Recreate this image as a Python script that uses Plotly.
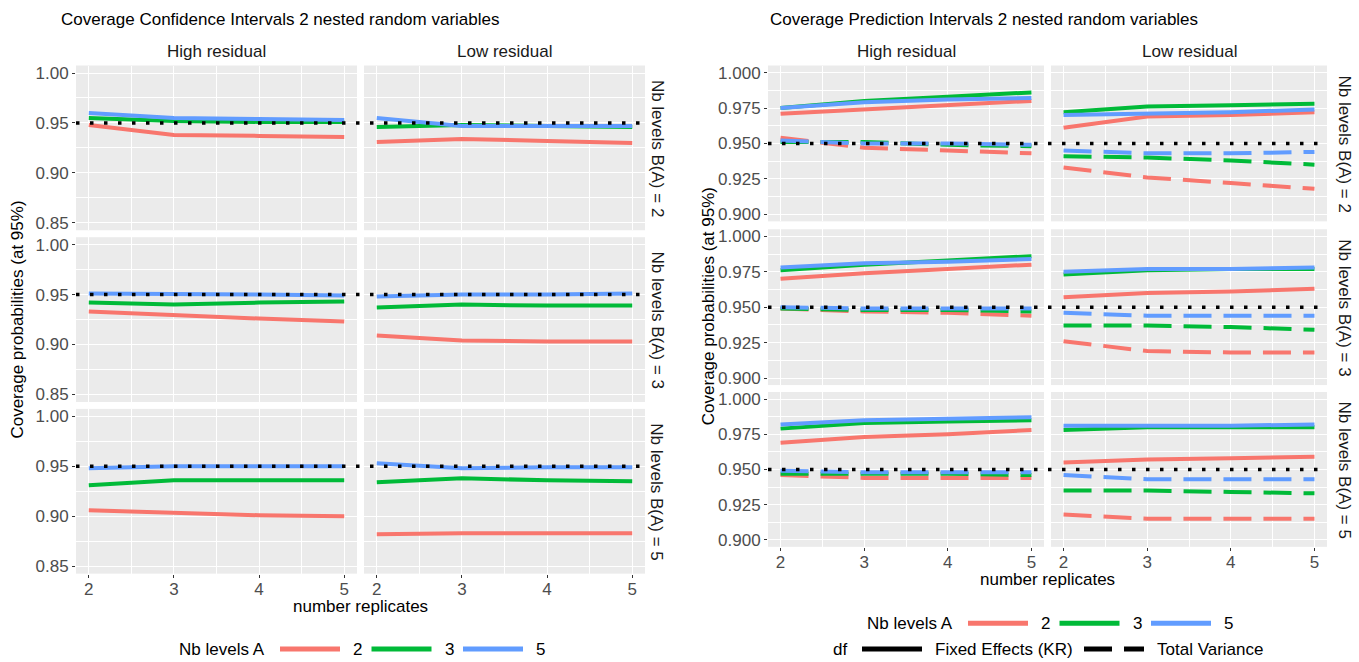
import plotly.graph_objects as go

W, H = 1359, 662

replicates = [2, 3, 4, 5]
levels_a = ["2", "3", "5"]
levels_b = [2, 3, 5]
residual_labels = ["High residual", "Low residual"]
df_labels = ["Fixed Effects (KR)", "Total Variance"]
colors_a = ["#F8766D", "#00BA38", "#619CFF"]
target_level = 0.95

# Coverage of confidence intervals: one list per Nb levels A (2, 3, 5)
ci_high_b2 = [[0.948, 0.938, 0.937, 0.936], [0.955, 0.952, 0.951, 0.951], [0.960, 0.955, 0.954, 0.953]]
ci_low_b2 = [[0.931, 0.934, 0.932, 0.930], [0.946, 0.948, 0.947, 0.946], [0.955, 0.947, 0.947, 0.947]]
ci_high_b3 = [[0.933, 0.930, 0.926, 0.923], [0.942, 0.940, 0.942, 0.943], [0.951, 0.951, 0.950, 0.949]]
ci_low_b3 = [[0.909, 0.904, 0.903, 0.903], [0.937, 0.940, 0.939, 0.939], [0.948, 0.950, 0.950, 0.951]]
ci_high_b5 = [[0.906, 0.903, 0.901, 0.900], [0.931, 0.936, 0.936, 0.936], [0.948, 0.950, 0.950, 0.950]]
ci_low_b5 = [[0.882, 0.883, 0.883, 0.883], [0.934, 0.938, 0.936, 0.935], [0.953, 0.948, 0.949, 0.949]]

# Coverage of prediction intervals, Fixed Effects (KR) df
pi_kr_high_b2 = [[0.971, 0.974, 0.977, 0.980], [0.975, 0.980, 0.983, 0.986], [0.975, 0.979, 0.981, 0.982]]
pi_kr_low_b2 = [[0.961, 0.969, 0.970, 0.972], [0.972, 0.976, 0.977, 0.978], [0.970, 0.971, 0.972, 0.974]]
pi_kr_high_b3 = [[0.970, 0.974, 0.977, 0.980], [0.976, 0.980, 0.983, 0.986], [0.978, 0.981, 0.982, 0.984]]
pi_kr_low_b3 = [[0.957, 0.960, 0.961, 0.963], [0.973, 0.976, 0.977, 0.977], [0.975, 0.977, 0.977, 0.978]]
pi_kr_high_b5 = [[0.969, 0.973, 0.975, 0.978], [0.979, 0.983, 0.984, 0.985], [0.982, 0.985, 0.986, 0.987]]
pi_kr_low_b5 = [[0.955, 0.957, 0.958, 0.959], [0.978, 0.980, 0.980, 0.980], [0.981, 0.981, 0.981, 0.982]]

# Coverage of prediction intervals, Total Variance df
pi_tv_high_b2 = [[0.954, 0.947, 0.945, 0.943], [0.951, 0.951, 0.949, 0.948], [0.952, 0.950, 0.950, 0.949]]
pi_tv_low_b2 = [[0.933, 0.926, 0.922, 0.918], [0.941, 0.940, 0.938, 0.935], [0.945, 0.943, 0.943, 0.944]]
pi_tv_high_b3 = [[0.949, 0.947, 0.946, 0.944], [0.949, 0.948, 0.948, 0.947], [0.950, 0.949, 0.949, 0.949]]
pi_tv_low_b3 = [[0.926, 0.919, 0.918, 0.918], [0.937, 0.937, 0.936, 0.934], [0.946, 0.944, 0.944, 0.944]]
pi_tv_high_b5 = [[0.946, 0.944, 0.944, 0.944], [0.947, 0.947, 0.947, 0.946], [0.949, 0.948, 0.948, 0.948]]
pi_tv_low_b5 = [[0.918, 0.915, 0.915, 0.915], [0.935, 0.935, 0.934, 0.933], [0.946, 0.943, 0.943, 0.943]]

ci_grid = [[ci_high_b2, ci_low_b2], [ci_high_b3, ci_low_b3], [ci_high_b5, ci_low_b5]]
pi_grid = [
    [[pi_kr_high_b2, pi_tv_high_b2], [pi_kr_low_b2, pi_tv_low_b2]],
    [[pi_kr_high_b3, pi_tv_high_b3], [pi_kr_low_b3, pi_tv_low_b3]],
    [[pi_kr_high_b5, pi_tv_high_b5], [pi_kr_low_b5, pi_tv_low_b5]],
]

FONT = "Liberation Sans, Arial, Helvetica, sans-serif"
FS = 17
PANEL_BG = "#EBEBEB"
TICK_COL = "#4D4D4D"
STRIP_COL = "#1A1A1A"
LINE_W = 4
DF_DASH = ["solid", "28px,12px"]
TARGET_DASH = "3.5px,10.5px"

# panel placement in pixels: (left, right) per column, (top, bottom) per row
ci_cols = [(76, 357), (364, 645)]
ci_rows = [(64, 230), (237, 403), (410, 576)]
pi_cols = [(768, 1044), (1051, 1327)]
pi_rows = [(64, 221), (229, 386), (393, 549)]


def fx(p):
    return p / W


def fy(p):
    return 1 - p / H


fig = go.Figure()
layout = dict(
    width=W, height=H, margin=dict(l=0, r=0, t=0, b=0),
    paper_bgcolor="white", plot_bgcolor=PANEL_BG,
    font=dict(family=FONT, size=FS, color="black"),
    showlegend=False,
)
shapes = []
annotations = []
axis_n = [0]


def add_axes(cx, ry, yrange, yticks, ymajor_fmt, yminor, bottom, left):
    axis_n[0] += 1
    n = axis_n[0]
    s = "" if n == 1 else str(n)
    layout["xaxis" + s] = dict(
        domain=[fx(cx[0]), fx(cx[1])], anchor="y" + s, range=[1.85, 5.15],
        tickvals=replicates, showgrid=True, gridcolor="white", gridwidth=1.2,
        minor=dict(tickvals=[2.5, 3.5, 4.5], showgrid=True, gridcolor="white", gridwidth=0.6, ticks=""),
        zeroline=False, showline=False, showticklabels=bottom,
        ticks="outside" if bottom else "", ticklen=3, tickwidth=1.1, tickcolor="#333333",
        ticklabelstandoff=-3,
        tickfont=dict(size=FS, color=TICK_COL), fixedrange=True,
    )
    layout["yaxis" + s] = dict(
        domain=[fy(ry[1]), fy(ry[0])], anchor="x" + s, range=yrange,
        tickvals=yticks, tickformat=ymajor_fmt, showgrid=True, gridcolor="white", gridwidth=1.2,
        minor=dict(tickvals=yminor, showgrid=True, gridcolor="white", gridwidth=0.6, ticks=""),
        zeroline=False, showline=False, showticklabels=left,
        ticks="outside" if left else "", ticklen=3, tickwidth=1.1, tickcolor="#333333",
        tickfont=dict(size=FS, color=TICK_COL), fixedrange=True,
    )
    return "x" + s, "y" + s


def facet_labels(cols, rows, strip_x):
    for j, lab in enumerate(residual_labels):
        annotations.append(dict(
            text=lab, x=fx((cols[j][0] + cols[j][1]) / 2), y=fy(50), xref="paper", yref="paper",
            showarrow=False, xanchor="center", yanchor="middle",
            font=dict(size=FS, color=STRIP_COL)))
    for i, b in enumerate(levels_b):
        annotations.append(dict(
            text=f"Nb levels B(A) = {b}", x=fx(strip_x), y=fy((rows[i][0] + rows[i][1]) / 2),
            xref="paper", yref="paper", showarrow=False, textangle=90,
            xanchor="center", yanchor="middle", font=dict(size=FS, color=STRIP_COL)))


def target_line(cols, yref):
    shapes.append(dict(
        type="line", xref="paper", yref=yref, x0=fx(cols[0][0]), x1=fx(cols[1][1]),
        y0=target_level, y1=target_level, layer="above",
        line=dict(color="black", width=3.5, dash=TARGET_DASH)))


# ---- Confidence intervals chart ----
ci_minor = [0.875, 0.925, 0.975]
for i in range(3):
    for j in range(2):
        xa, ya = add_axes(ci_cols[j], ci_rows[i], [0.8425, 1.0075], [0.85, 0.90, 0.95, 1.00], ".2f",
                          ci_minor, bottom=(i == 2), left=(j == 0))
        for k, series in enumerate(ci_grid[i][j]):
            fig.add_trace(go.Scatter(
                x=replicates, y=series, mode="lines", xaxis=xa, yaxis=ya, hoverinfo="skip",
                line=dict(color=colors_a[k], width=LINE_W)))
        if j == 0:
            target_line(ci_cols, ya)

# ---- Prediction intervals chart ----
pi_minor = [0.9125, 0.9375, 0.9625, 0.9875]
for i in range(3):
    for j in range(2):
        xa, ya = add_axes(pi_cols[j], pi_rows[i], [0.895, 1.005], [0.900, 0.925, 0.950, 0.975, 1.000],
                          ".3f", pi_minor, bottom=(i == 2), left=(j == 0))
        for d in range(2):
            for k, series in enumerate(pi_grid[i][j][d]):
                fig.add_trace(go.Scatter(
                    x=replicates, y=series, mode="lines", xaxis=xa, yaxis=ya, hoverinfo="skip",
                    line=dict(color=colors_a[k], width=LINE_W, dash=DF_DASH[d])))
        if j == 0:
            target_line(pi_cols, ya)

facet_labels(ci_cols, ci_rows, 657)
facet_labels(pi_cols, pi_rows, 1345)

# titles and axis titles
for text, x in [("Coverage Confidence Intervals 2 nested random variables", 59),
                ("Coverage Prediction Intervals 2 nested random variables", 768)]:
    annotations.append(dict(text=text, x=fx(x), y=fy(18), xref="paper", yref="paper", showarrow=False,
                            xanchor="left", yanchor="middle", font=dict(size=FS, color="black")))
for x, rows in [(18, ci_rows), (708, pi_rows)]:
    annotations.append(dict(text="Coverage probabilities (at 95%)", x=fx(x),
                            y=fy((rows[0][0] + rows[2][1]) / 2), xref="paper", yref="paper",
                            showarrow=False, textangle=-90, xanchor="center", yanchor="middle",
                            font=dict(size=FS, color="black")))
for cols, y in [(ci_cols, 609), (pi_cols, 582)]:
    annotations.append(dict(text="number replicates", x=fx((cols[0][0] + cols[1][1]) / 2), y=fy(y),
                            xref="paper", yref="paper", showarrow=False, xanchor="center",
                            yanchor="middle", font=dict(size=FS, color="black")))


# ---- legends (guide keys drawn as paper-space lines) ----
def legend_row(title, y, start, keys, key_len=60, gap_lab=11, gap_next=11):
    annotations.append(dict(text=title, x=fx(start - 13), y=fy(y), xref="paper", yref="paper",
                            showarrow=False, xanchor="right", yanchor="middle",
                            font=dict(size=FS, color="black")))
    x = start
    for label, color, dash, width, label_w in keys:
        shapes.append(dict(type="line", xref="paper", yref="paper", x0=fx(x), x1=fx(x + key_len),
                           y0=fy(y), y1=fy(y), line=dict(color=color, width=width, dash=dash)))
        annotations.append(dict(text=label, x=fx(x + key_len + gap_lab), y=fy(y), xref="paper",
                                yref="paper", showarrow=False, xanchor="left", yanchor="middle",
                                font=dict(size=FS, color="black")))
        x = x + key_len + gap_lab + label_w + gap_next


color_keys = [(lab, colors_a[k], "solid", 5, 9.5) for k, lab in enumerate(levels_a)]
legend_row("Nb levels A", 652, 280, color_keys)
legend_row("Nb levels A", 626, 968, color_keys)
legend_row("df", 652, 862,
           [(df_labels[0], "black", DF_DASH[0], 5, 140), (df_labels[1], "black", DF_DASH[1], 5, 110)])

layout["shapes"] = shapes
layout["annotations"] = annotations
fig.update_layout(**layout)
fig.write_html("out.html")
